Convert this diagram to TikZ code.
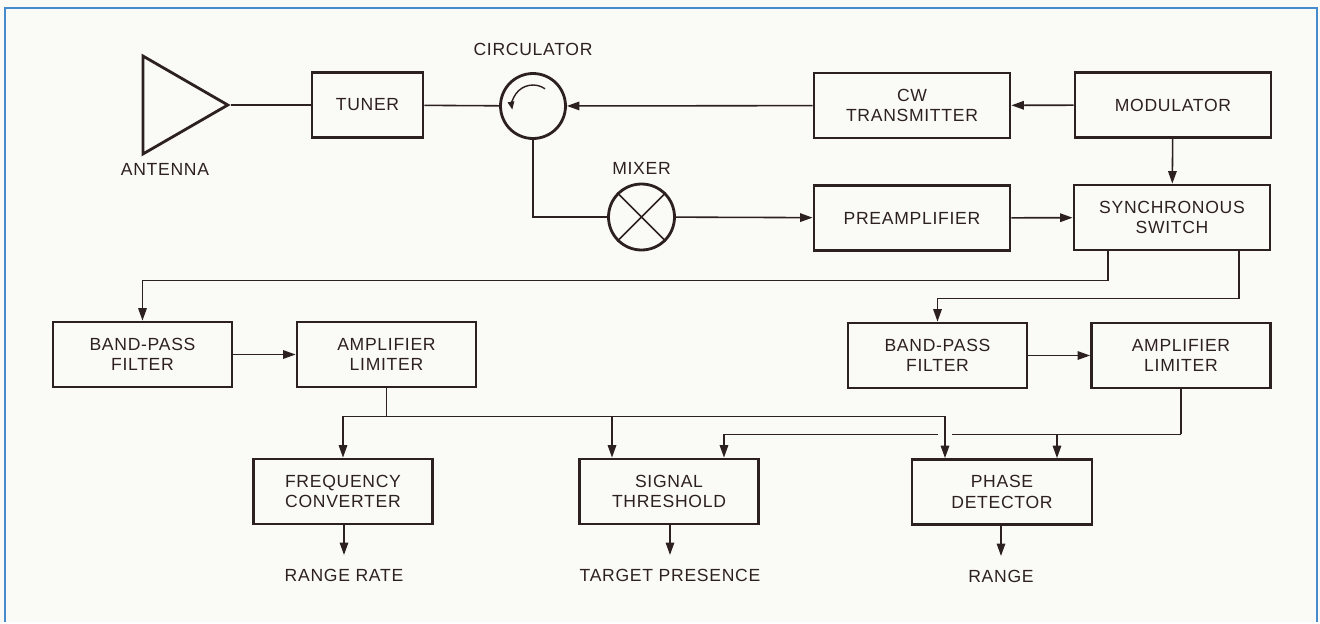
\documentclass[tikz,border=0pt]{standalone}
\usepackage{fontspec}
\setmainfont{Liberation Sans}[LetterSpace=4]
\usetikzlibrary{arrows.meta,positioning,shapes.geometric}
\definecolor{ink}{RGB}{45,32,32}
\definecolor{bgpaper}{RGB}{250,250,247}
\definecolor{edgeblue}{RGB}{70,140,205}
\begin{document}
\begin{tikzpicture}[x=0.02cm,y=-0.02cm,color=ink,line width=0.9pt,
  font=\fontsize{10}{11.5}\selectfont,>={Triangle[length=2.5mm,width=1.7mm]},
  box/.style={draw,line width=1.6pt,align=center,inner sep=0pt,minimum width=3.58cm,minimum height=1.3cm},
  wide/.style={box,minimum width=3.92cm},
  ring/.style={draw,line width=1.6pt,circle,inner sep=0pt,minimum size=1.3cm},
  lbl/.style={inner sep=0pt},
  gap/.style={preaction={draw=bgpaper,line width=8pt,-,shorten <=3pt,shorten >=2pt}}]
\fill[bgpaper] (0,0) rectangle (1320,622);
\draw[edgeblue,line width=1.6pt] (5,622) -- (5,8) -- (1317,8) -- (1317,622);
% top row
\node[draw,line width=1.6pt,regular polygon,regular polygon sides=3,shape border rotate=-90,minimum size=2.26cm,inner sep=0pt] (ant) at (171.3,105) {};
\node[lbl] (antlbl) at (165,169) {ANTENNA};
\node[box,minimum width=2.22cm] (tuner) at (367.5,105) {TUNER};
\node[ring] (circ) at (533,106) {};
\node[lbl,above=0.32cm of circ] (circlbl) {CIRCULATOR};
\node[wide] (cw) at (912,105.5) {CW\\TRANSMITTER};
\node[wide] (mod) at (1173,105) {MODULATOR};
\node[ring,minimum size=1.32cm] (mixer) at (641.5,217) {};
\node[lbl,above=0.15cm of mixer] (mixlbl) {MIXER};
\node[wide] (pre) at (912,218) {PREAMPLIFIER};
\node[wide] (sync) at (1172,217.5) {SYNCHRONOUS\\SWITCH};
\draw[line width=0.8pt,->,>={Triangle[length=1.6mm,width=1.3mm]}] ([shift={(55:0.42cm)}]circ.center) arc[start angle=55,end angle=190,radius=0.42cm];
\draw (mixer.45) -- (mixer.225) (mixer.135) -- (mixer.315);
\draw (ant.corner 1) -- (tuner);
\draw (tuner) -- (circ);
\draw[->] (cw) -- (circ);
\draw[->] (mod) -- (cw);
\draw[->] (mod) -- (sync);
\draw (circ.south) |- (mixer.west);
\draw[->] (mixer) -- (pre);
\draw[->] (pre) -- (sync);
% filters
\node[box] (bpfa) at (142.5,354.5) {BAND-PASS\\FILTER};
\node[box] (ampa) at (386.5,354.5) {AMPLIFIER\\LIMITER};
\node[box] (bpfb) at (937.5,355.5) {BAND-PASS\\FILTER};
\node[box] (ampb) at (1181,355.5) {AMPLIFIER\\LIMITER};
\draw[->] ([xshift=-1.28cm]sync.south) -- ++(0,29) -| (bpfa.north);
\draw[->] ([xshift=1.34cm]sync.south) -- ++(0,47) -| (bpfb.north);
\draw[->] (bpfa) -- (ampa);
\draw[->] (bpfb) -- (ampb);
% detectors
\node[box] (freq) at (343,491.5) {FREQUENCY\\CONVERTER};
\node[box] (thr) at (669,491.5) {SIGNAL\\THRESHOLD};
\node[box,minimum width=3.6cm] (phase) at (1002,492) {PHASE\\DETECTOR};
\coordinate (thrl) at ([xshift=-1.14cm]thr.north);
\coordinate (thrr) at ([xshift=1.1cm]thr.north);
\coordinate (phl) at ([xshift=-1.14cm]phase.north);
\coordinate (phr) at ([xshift=1.1cm]phase.north);
\draw (ampb.south) -- ++(0,45) coordinate (busb);
\draw[->] (busb) -| (thrr);
\draw[->] (phr |- busb) -- (phr);
\draw (ampa.south) -- ++(0,28) coordinate (busa);
\draw[->,gap] (phl |- busa) -- (phl);
\draw[->] (busa) -| (freq.north);
\draw (busa) -- (busa -| phl);
\draw[->] (thrl |- busa) -- (thrl);
% outputs
\node[lbl] (rrate) at (344,575) {RANGE RATE};
\node[lbl] (tpres) at (670,575) {TARGET PRESENCE};
\node[lbl] (rng) at (1001,576) {RANGE};
\draw[->,shorten >=2.6mm] (freq.south -| rrate) -- (rrate.north);
\draw[->,shorten >=2.6mm] (thr.south -| tpres) -- (tpres.north);
\draw[->,shorten >=2.6mm] (phase.south -| rng) -- (rng.north);
\end{tikzpicture}
\end{document}
